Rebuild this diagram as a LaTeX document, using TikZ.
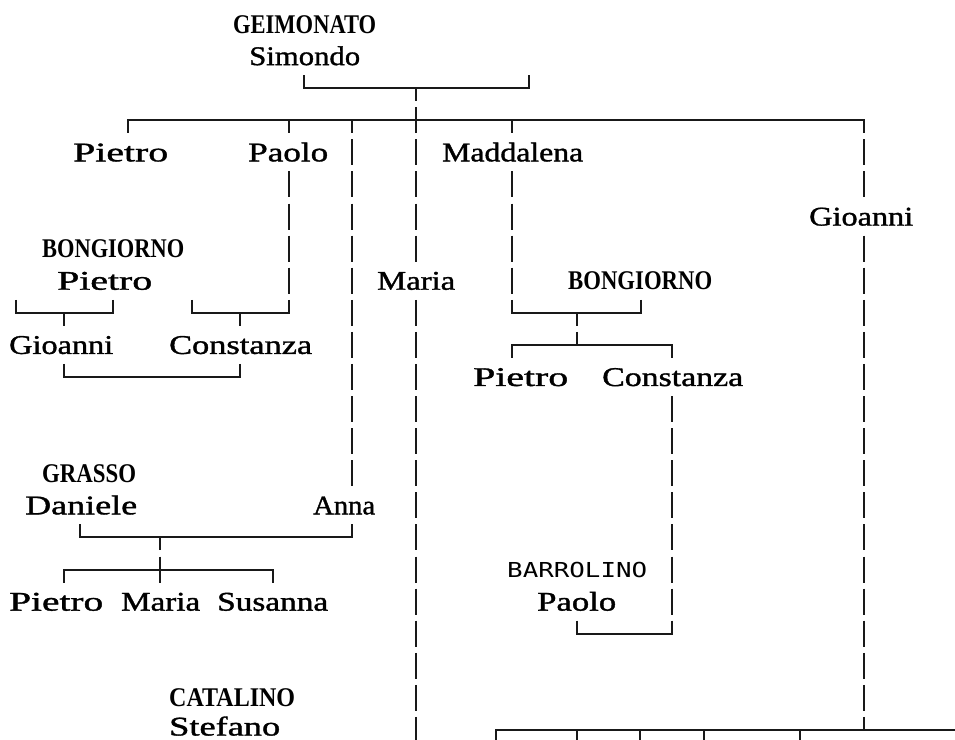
\documentclass[tikz,border=0pt]{standalone}
\usepackage{fontspec}
\usepackage{graphicx}
\setmainfont{Liberation Serif}
\newfontfamily\namefont[FakeBold=1.2]{Liberation Serif}
\newfontfamily\capfont{Liberation Serif Bold}
\newfontfamily\barfont{DejaVu Sans Mono}
\tikzset{
  box/.style={line width=2pt, draw=black!90},
  nm/.style={inner sep=0pt, anchor=base west, font=\namefont\fontsize{27}{27}\selectfont},
  nmcap/.style={inner sep=0pt, anchor=base west, font=\capfont\fontsize{27}{27}\selectfont},
  nmsans/.style={inner sep=0pt, anchor=base west, font=\barfont\fontsize{20.6}{20.6}\selectfont}
}
% one full cell of a vertical box line at x, row r
\newcommand\BXseg[2]{\draw[box] (#1,{24+32.09*#2-13}) -- (#1,{24+32.09*#2+13});}
\newcommand\BXfull[3]{\foreach \rr in {#2,...,#3}{\BXseg{#1}{\rr}}}
\newcommand\BXup[2]{\draw[box] (#1,{24+32.09*#2-13}) -- (#1,{24+32.09*#2});}
\newcommand\BXdn[2]{\draw[box] (#1,{24+32.09*#2}) -- (#1,{24+32.09*#2+13});}
\newcommand\BXh[3]{\draw[box,line cap=rect] (#1,{24+32.09*#3}) -- (#2,{24+32.09*#3});}
\newcommand\NM[5]{\node[nm] (#1) at (#2,{33+32.09*#4}) {\resizebox{#3pt}{\height}{#5}};}
\newcommand\NC[5]{\node[nmcap] (#1) at (#2,{33+32.09*#4}) {\resizebox{#3pt}{\height}{#5}};}
\begin{document}
\begin{tikzpicture}[x=1pt,y=-1pt]
\useasboundingbox (0,0) rectangle (955,739);
\clip (0,0) rectangle (955,739);
% ---- names ----
\NC{gei}{233}{143}{0}{GEIMONATO}
\NM{sim}{249}{111}{1}{Simondo}
\NM{pie1}{73}{95}{4}{Pietro}
\NM{pao1}{248}{80}{4}{Paolo}
\NM{mad}{442}{141}{4}{Maddalena}
\NM{gio1}{809}{104}{6}{Gioanni}
\NC{bon1}{42}{142}{7}{BONGIORNO}
\NM{pie2}{57}{95}{8}{Pietro}
\NM{mar1}{377}{78}{8}{Maria}
\NC{bon2}{568}{144}{8}{BONGIORNO}
\NM{gio2}{9}{104}{10}{Gioanni}
\NM{con1}{169}{143}{10}{Constanza}
\NM{pie3}{473}{95}{11}{Pietro}
\NM{con2}{602}{141}{11}{Constanza}
\NC{gra}{42}{94}{14}{GRASSO}
\NM{dan}{25}{112}{15}{Daniele}
\NM{ann}{313}{62}{15}{Anna}
\NM{pie4}{9}{94}{18}{Pietro}
\NM{mar2}{121}{79}{18}{Maria}
\NM{sus}{217}{111}{18}{Susanna}
\node[nmsans] (bar) at (507,577) {\resizebox{140pt}{\height}{BARROLINO}};
\NM{pao2}{537}{79}{18}{Paolo}
\NC{cat}{169}{126}{21}{CATALINO}
\node[nm] (ste) at (169,735.5) {\resizebox{111pt}{\height}{Stefano}};
% ---- row 2: Simondo's bracket ----
\BXup{304}{2} \BXh{304}{529}{2} \BXdn{416}{2} \BXup{529}{2}
% ---- row 3: children line ----
\BXh{128}{864}{3}
\BXdn{128}{3} \BXdn{289}{3} \BXdn{352}{3} \BXseg{416}{3} \BXdn{512}{3} \BXdn{864}{3}
% ---- long verticals ----
\BXfull{289}{5}{8} \BXup{289}{9}
\BXfull{352}{4}{14} \BXup{352}{16}
\BXfull{416}{4}{7} \BXfull{416}{9}{22}
\BXfull{512}{5}{8} \BXup{512}{9}
\BXfull{864}{4}{5} \BXfull{864}{7}{21} \BXup{864}{22}
% ---- row 9 brackets ----
\BXh{16}{113}{9} \BXup{16}{9} \BXdn{64}{9} \BXup{113}{9}
\BXh{192}{289}{9} \BXup{192}{9} \BXdn{240}{9}
\BXh{512}{641}{9} \BXdn{577}{9} \BXup{641}{9}
% ---- row 10 ----
\BXh{512}{672}{10} \BXdn{512}{10} \BXup{577}{10} \BXdn{672}{10}
% ---- row 11 ----
\BXh{64}{240}{11} \BXup{64}{11} \BXup{240}{11}
% ---- Constanza / Barrolino ----
\BXfull{672}{12}{18} \BXup{672}{19}
\BXh{577}{672}{19} \BXup{577}{19}
% ---- row 16 / 17 ----
\BXh{80}{352}{16} \BXup{80}{16} \BXdn{160}{16}
\BXh{64}{273}{17} \BXdn{64}{17} \BXseg{160}{17} \BXdn{273}{17}
% ---- row 22 ----
\BXh{496}{960}{22}
\BXdn{496}{22} \BXdn{577}{22} \BXdn{640}{22} \BXdn{704}{22} \BXdn{800}{22}
\end{tikzpicture}
\end{document}
